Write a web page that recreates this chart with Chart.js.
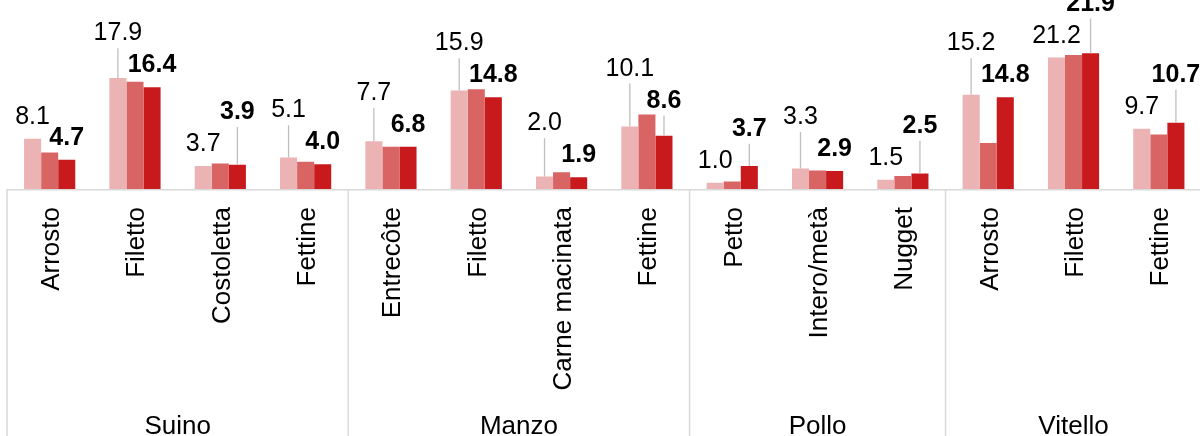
<!DOCTYPE html>
<html>
<head>
<meta charset="utf-8">
<script src="https://cdn.jsdelivr.net/npm/chart.js@4/dist/chart.umd.min.js"></script>
<style>
  html, body { margin: 0; padding: 0; background: #fff; overflow: hidden; }
  #wrap { position: relative; width: 1210px; height: 460px; }
</style>
</head>
<body>
<div id="wrap"><canvas id="meatChart"></canvas></div>
<script>
// categories and groups
var categories = ['Arrosto', 'Filetto', 'Costoletta', 'Fettine',
                  'Entrecôte', 'Filetto', 'Carne macinata', 'Fettine',
                  'Petto', 'Intero/metà', 'Nugget',
                  'Arrosto', 'Filetto', 'Fettine'];
var groupNames = ['Suino', 'Manzo', 'Pollo', 'Vitello'];
var groupSizes = [4, 4, 3, 3];

// series values
var series1 = [8.1, 17.9, 3.7, 5.1, 7.7, 15.9, 2.0, 10.1, 1.0, 3.3, 1.5, 15.2, 21.2, 9.7];
var series2 = [5.9, 17.3, 4.1, 4.4, 6.8, 16.1, 2.7, 12.0, 1.2, 3.0, 2.1, 7.4, 21.6, 8.8];
var series3 = [4.7, 16.4, 3.9, 4.0, 6.8, 14.8, 1.9, 8.6, 3.7, 2.9, 2.5, 14.8, 21.9, 10.7];

var FONT = 'Arial, "Liberation Sans", sans-serif';

var labelsPlugin = {
    id: 'groupLabels',
    afterDatasetsDraw: function(chart) {
        var ctx = chart.ctx;
        var area = chart.chartArea;
        var xs = chart.scales.x;
        var catW = area.width / categories.length;

        ctx.save();
        // axis line + group separators
        ctx.strokeStyle = '#d9d9d9';
        ctx.lineWidth = 1.5;
        ctx.beginPath();
        ctx.moveTo(area.left, area.bottom + 0.75);
        ctx.lineTo(area.right, area.bottom + 0.75);
        var k = 0;
        var bounds = [0];
        groupSizes.forEach(function(n) { k += n; bounds.push(k); });
        bounds.forEach(function(b) {
            var bx = area.left + b * catW;
            ctx.moveTo(bx, area.bottom);
            ctx.lineTo(bx, chart.height);
        });
        ctx.stroke();

        // category labels (rotated)
        ctx.fillStyle = '#000';
        ctx.font = '26px ' + FONT;
        categories.forEach(function(c, i) {
            var cx = xs.getPixelForValue(i);
            ctx.save();
            ctx.translate(cx + 9.5, area.bottom + 18);
            ctx.rotate(-Math.PI / 2);
            ctx.textAlign = 'right';
            ctx.textBaseline = 'alphabetic';
            ctx.fillText(c, 0, 0);
            ctx.restore();
        });

        // group labels
        ctx.textAlign = 'center';
        ctx.textBaseline = 'alphabetic';
        var start = 0;
        groupNames.forEach(function(g, gi) {
            var gx = area.left + (start + groupSizes[gi] / 2) * catW;
            ctx.fillText(g, gx, area.bottom + 245);
            start += groupSizes[gi];
        });

        // value labels on first and last series
        var metas = [0, 1, 2].map(function(d) { return chart.getDatasetMeta(d).data; });
        var fonts = ['25px ' + FONT, null, 'bold 25px ' + FONT];
        var textH = 18;

        function natural(i, d, text) {
            ctx.font = fonts[d];
            var w = ctx.measureText(text).width;
            var bar = metas[d][i];
            var b = bar.y - 15;
            for (var o = 0; o < 3; o++) {
                if (o === d) continue;
                var ob = metas[o][i];
                var l = ob.x - ob.width / 2, r = ob.x + ob.width / 2;
                if (bar.x + w / 2 > l && bar.x - w / 2 < r) {
                    b = Math.min(b, ob.y - 7);
                }
            }
            return b;
        }

        for (var i = 0; i < categories.length; i++) {
            var t0 = series1[i].toFixed(1), t2 = series3[i].toFixed(1);
            var b0 = natural(i, 0, t0), b2 = natural(i, 2, t2);
            // stack the label of the larger value above the other when they collide
            if (series1[i] >= series3[i]) {
                if (b0 > b2 - textH) b0 = Math.min(b0, b2 - textH - 14);
            } else {
                if (b2 > b0 - textH) b2 = Math.min(b2, b0 - textH - 14);
            }
            [[0, t0, b0], [2, t2, b2]].forEach(function(item) {
                var d = item[0], bar = metas[d][i], base = item[2];
                if (bar.y - base > 24) {
                    ctx.strokeStyle = '#bfbfbf';
                    ctx.lineWidth = 1.3;
                    ctx.beginPath();
                    ctx.moveTo(bar.x, base + 8);
                    ctx.lineTo(bar.x, bar.y);
                    ctx.stroke();
                }
                ctx.font = fonts[d];
                ctx.fillStyle = '#000';
                ctx.textAlign = 'center';
                ctx.fillText(item[1], bar.x, base);
            });
        }
        ctx.restore();
    }
};

var ctx = document.getElementById('meatChart').getContext('2d');
var meatChart = new Chart(ctx, {
    type: 'bar',
    data: {
        labels: categories,
        datasets: [{
            label: 'Serie 1',
            data: series1,
            backgroundColor: '#ebb3b3'
        }, {
            label: 'Serie 2',
            data: series2,
            backgroundColor: '#d96464'
        }, {
            label: 'Serie 3',
            data: series3,
            backgroundColor: '#c8191d'
        }]
    },
    options: {
        responsive: true,
        maintainAspectRatio: false,
        animation: false,
        datasets: {
            bar: {
                categoryPercentage: 0.6,
                barPercentage: 1.0,
                borderWidth: 0
            }
        },
        layout: {
            padding: { left: 7, right: 8.5, top: 3, bottom: 271 }
        },
        plugins: {
            legend: { display: false },
            tooltip: { enabled: false }
        },
        scales: {
            x: { display: false },
            y: { display: false, min: 0, max: 30 }
        }
    },
    plugins: [labelsPlugin]
});
</script>
</body>
</html>
